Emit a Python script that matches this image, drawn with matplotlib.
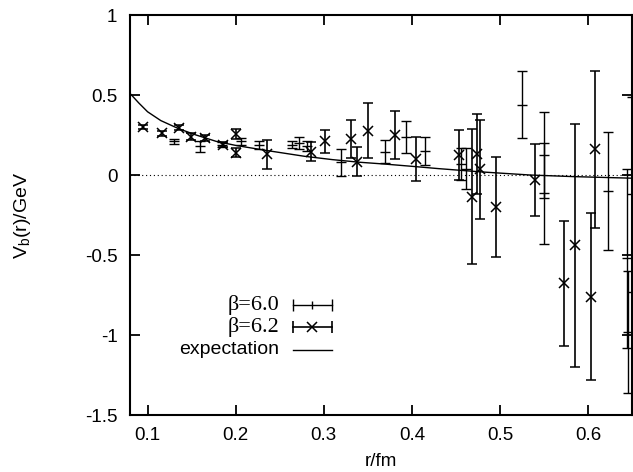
import matplotlib
matplotlib.use('Agg')
import matplotlib.pyplot as plt

plt.rcParams['font.family'] = ['Liberation Sans', 'DejaVu Sans']
plt.rcParams['axes.unicode_minus'] = False

# beta = 6.0 data (r/fm, V/GeV, error)
r60 = [0.130, 0.160, 0.184, 0.2065, 0.226, 0.264, 0.272, 0.281, 0.320, 0.370,
       0.393, 0.415, 0.456, 0.462, 0.525, 0.5505, 0.5505, 0.623, 0.644, 0.646, 0.6497]
v60 = [0.21, 0.18, 0.19, 0.21, 0.19, 0.19, 0.20, 0.18, 0.08, 0.146,
       0.24, 0.15, 0.07, 0.04, 0.44, 0.125, -0.115, -0.10, -0.52, -0.98, -0.12]
e60 = [0.015, 0.035, 0.015, 0.02, 0.025, 0.02, 0.04, 0.03, 0.085, 0.07,
       0.10, 0.09, 0.10, 0.13, 0.21, 0.27, 0.315, 0.37, 0.56, 0.38, 0.61]

# beta = 6.2 data
r62 = [0.0947, 0.116, 0.1356, 0.1496, 0.165, 0.1856, 0.200, 0.200, 0.235, 0.285,
       0.301, 0.331, 0.338, 0.350, 0.381, 0.405, 0.454, 0.468, 0.4735, 0.477,
       0.496, 0.540, 0.573, 0.585, 0.604, 0.608]
v62 = [0.30, 0.26, 0.295, 0.24, 0.23, 0.19, 0.255, 0.14, 0.13, 0.146,
       0.21, 0.225, 0.083, 0.277, 0.25, 0.10, 0.125, -0.135, 0.13, 0.035,
       -0.20, -0.03, -0.677, -0.44, -0.76, 0.16]
e62 = [0.015, 0.015, 0.015, 0.02, 0.02, 0.015, 0.03, 0.03, 0.09, 0.06,
       0.07, 0.12, 0.09, 0.17, 0.15, 0.14, 0.155, 0.42, 0.25, 0.31,
       0.31, 0.225, 0.39, 0.76, 0.52, 0.49]

# expectation curve
r_exp = [0.08, 0.09, 0.10, 0.115, 0.135, 0.155, 0.178, 0.20, 0.233, 0.278,
         0.31, 0.34, 0.37, 0.405, 0.43, 0.477, 0.534, 0.583, 0.65]
v_exp = [0.51, 0.45, 0.395, 0.34, 0.29, 0.25, 0.21, 0.185, 0.155, 0.117,
         0.096, 0.08, 0.068, 0.052, 0.04, 0.02, 0.0, -0.01, -0.02]

fig = plt.figure(figsize=(6.33, 4.72), dpi=100)
ax = fig.add_axes([130 / 633, 57 / 472, 502 / 633, 400 / 472])

ax.axhline(0, color='k', lw=0.8, ls=(0, (1, 2.5)))
ax.errorbar(r60, v60, yerr=e60, fmt='none', ecolor='k', elinewidth=1.0,
            capsize=3.5, capthick=1.0)
ax.plot(r60, v60, ls='none', marker='_', ms=7, mew=1.0, color='k')
ax.errorbar(r62, v62, yerr=e62, fmt='x', color='k', ms=7, mew=1.1,
            elinewidth=1.2, capsize=3.5, capthick=1.2)
ax.plot(r_exp, v_exp, color='k', lw=1.0)

ax.set_xlim(0.08, 0.65)
ax.set_ylim(-1.5, 1)
ax.set_xticks([0.1, 0.2, 0.3, 0.4, 0.5, 0.6])
ax.set_yticks([-1.5, -1, -0.5, 0, 0.5, 1])
ax.set_xticklabels(['0.1', '0.2', '0.3', '0.4', '0.5', '0.6'])
ax.set_yticklabels(['-1.5', '-1', '-0.5', '0', '0.5', '1'])
ax.tick_params(direction='in', length=7, width=1.3, top=True, right=True,
               labelsize=13.5, pad=9)
for s in ax.spines.values():
    s.set_linewidth(1.5)
ax.set_xlabel('r/fm', fontsize=13.5)
ax.set_ylabel(r'V$_\mathregular{b}$(r)/GeV', fontsize=14)
ax.xaxis.set_label_coords(0.5, -0.095)
ax.yaxis.set_label_coords(-0.193, 0.5)

# legend (gnuplot style, drawn in axes fractions)
tx = 0.297
lx0, lx1 = 0.325, 0.402
rows = [0.275, 0.22, 0.1625]
ax.text(tx, rows[0], '\u03b2=6.0', transform=ax.transAxes, ha='right', va='center',
        family='Liberation Serif', fontsize=16)
ax.text(tx, rows[1], '\u03b2=6.2', transform=ax.transAxes, ha='right', va='center',
        family='Liberation Serif', fontsize=16)
ax.text(tx, rows[2], 'expectation', transform=ax.transAxes, ha='right', va='center',
        fontsize=14)
lm = (lx0 + lx1) / 2
ax.plot([lx0, lx1], [rows[0]] * 2, color='k', lw=1.0, transform=ax.transAxes)
ax.plot([lx0, lx1], [rows[0]] * 2, ls='none', marker='|', ms=8, mew=1.0,
        color='k', transform=ax.transAxes)
ax.plot([lm], [rows[0]], ls='none', marker='|', ms=6, mew=1.0, color='k',
        transform=ax.transAxes)
ax.plot([lx0, lx1], [rows[1]] * 2, color='k', lw=1.2, transform=ax.transAxes)
ax.plot([lx0, lx1], [rows[1]] * 2, ls='none', marker='|', ms=8, mew=1.2,
        color='k', transform=ax.transAxes)
ax.plot([lm], [rows[1]], ls='none', marker='x', ms=7, mew=1.1, color='k',
        transform=ax.transAxes)
ax.plot([lx0, lx1], [rows[2]] * 2, color='k', lw=1.0, transform=ax.transAxes)

fig.savefig('out.png', dpi=100)
